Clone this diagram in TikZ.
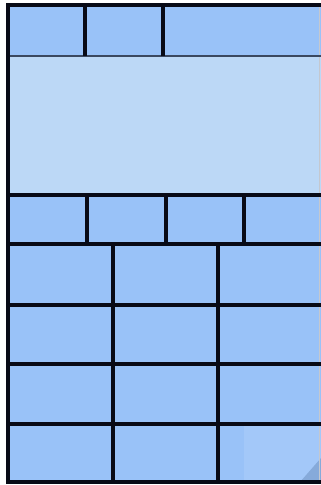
\documentclass[tikz,border=0pt]{standalone}
\definecolor{cellblue}{RGB}{153,194,248}
\definecolor{paleblue}{RGB}{188,216,246}
\definecolor{gridline}{RGB}{8,10,22}
\definecolor{softline}{RGB}{58,72,96}
\tikzset{
  cell/.style={fill=cellblue, draw=none},
  pane/.style={fill=paleblue, draw=none},
  heavy/.style={draw=gridline, line width=3.8pt},
  light/.style={draw=softline, line width=2.4pt},
}
\begin{document}
\begin{tikzpicture}[x=1pt,y=-1pt]
\useasboundingbox (0,0) rectangle (321,485);
\fill[white] (0,0) rectangle (321,485);
% fills
\fill[cell] (8,5) rectangle (321,56);
\fill[pane] (8,56) rectangle (321,195);
\fill[cell] (8,195) rectangle (321,482);
% faint page curl at bottom right
\fill[cellblue!90!white] (244,426) rectangle (321,482);
\fill[cellblue!80!softline] (300,482) -- (321,482) -- (321,458) -- cycle;
% right faint edge
\draw[softline!30, line width=1pt] (319,5) -- (319,482);
% top row
\draw[light] (8,56) -- (321,56);
\draw[heavy] (85,5) -- (85,56);
\draw[heavy] (163,5) -- (163,56);
% four-cell row
\draw[heavy] (8,195) -- (321,195);
\draw[heavy] (8,244) -- (321,244);
\draw[heavy] (87,195) -- (87,244);
\draw[heavy] (166,195) -- (166,244);
\draw[heavy] (244,195) -- (244,244);
% three-cell rows
\draw[heavy] (8,305) -- (321,305);
\draw[heavy] (8,364) -- (321,364);
\draw[heavy] (8,424) -- (321,424);
\draw[heavy] (113,244) -- (113,482);
\draw[heavy] (218,244) -- (218,482);
% frame
\draw[heavy] (321,5) -- (8,5) -- (8,482) -- (321,482);
\end{tikzpicture}
\end{document}
